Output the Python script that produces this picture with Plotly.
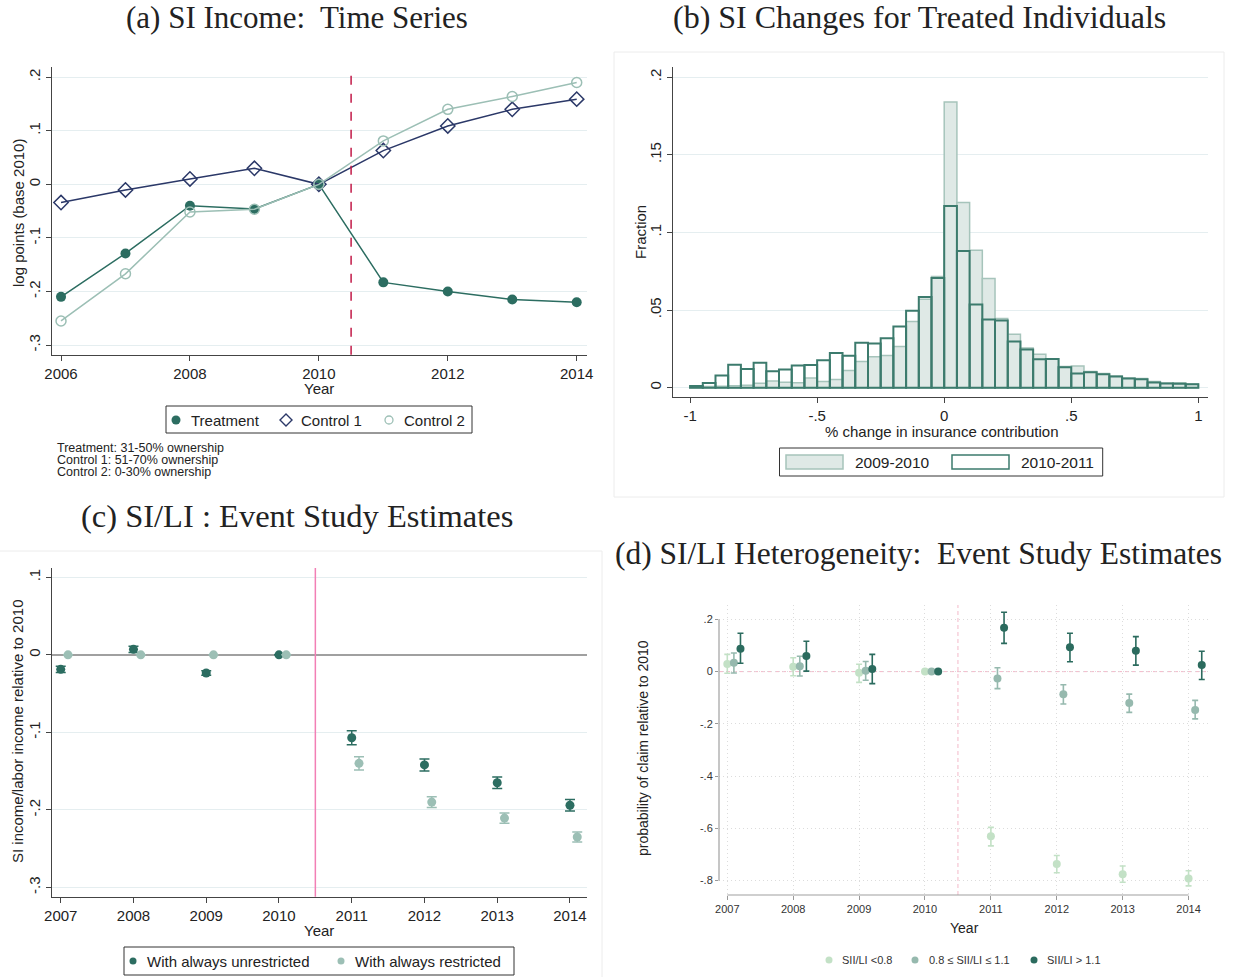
import plotly.graph_objects as go

W, H = 1233, 977
SANS = "Liberation Sans, Arial, sans-serif"
SERIF = "Liberation Serif, Times New Roman, serif"


def fx(x):
    return x / W


def fy(y):
    return 1 - y / H


# ---------------- (a) SI income time series ----------------
years_a = [2006, 2007, 2008, 2009, 2010, 2011, 2012, 2013, 2014]
treatment = [-0.210, -0.129, -0.040, -0.046, 0.0, -0.183, -0.200, -0.215, -0.220]
control1 = [-0.034, -0.0105, 0.010, 0.030, 0.0, 0.063, 0.109, 0.140, 0.159]
control2 = [-0.255, -0.167, -0.0516, -0.0466, 0.0, 0.081, 0.140, 0.164, 0.190]

# ---------------- (b) histogram of SI changes ----------------
bin_width = 0.05
bin_start = -1.0
frac_0910 = [0.0004, 0.0007, 0.0009, 0.0012, 0.0016, 0.0028, 0.0043, 0.0035, 0.0031, 0.0063,
             0.0040, 0.0053, 0.0110, 0.0169, 0.0200, 0.0207, 0.0266, 0.0426, 0.0570, 0.0717,
             0.1841, 0.1193, 0.0886, 0.0703, 0.0445, 0.0344, 0.0255, 0.0216, 0.0187, 0.0137,
             0.0140, 0.0104, 0.0091, 0.0075, 0.0063, 0.0059, 0.0039, 0.0030, 0.0032, 0.0024]
frac_1011 = [0.0010, 0.0030, 0.0079, 0.0147, 0.0120, 0.0160, 0.0106, 0.0117, 0.0143, 0.0146,
             0.0177, 0.0223, 0.0205, 0.0289, 0.0285, 0.0318, 0.0394, 0.0495, 0.0584, 0.0706,
             0.1170, 0.0880, 0.0536, 0.0440, 0.0433, 0.0297, 0.0246, 0.0183, 0.0185, 0.0131,
             0.0091, 0.0100, 0.0087, 0.0072, 0.0059, 0.0055, 0.0033, 0.0027, 0.0025, 0.0022]
bin_centers = [bin_start + bin_width * (i + 0.5) for i in range(len(frac_1011))]

# ---------------- (c) SI/LI event study ----------------
years_c = [2007, 2008, 2009, 2010, 2011, 2012, 2013, 2014]
unrestricted = [-0.0187, 0.0071, -0.0235, 0.0, -0.107, -0.142, -0.165, -0.194]
unrestricted_ci = [0.004, 0.004, 0.003, 0.0, 0.009, 0.0077, 0.0073, 0.0073]
restricted = [0.0, 0.0, 0.0, 0.0, -0.140, -0.190, -0.2106, -0.235]
restricted_ci = [0.0, 0.0, 0.0, 0.0, 0.0086, 0.007, 0.0065, 0.0065]
restricted_shift = 0.1

# ---------------- (d) heterogeneity event study ----------------
years_d = [2007, 2008, 2009, 2010, 2011, 2012, 2013, 2014]
low_est = [0.029, 0.019, -0.004, 0.0, -0.630, -0.736, -0.776, -0.792]
low_lo = [-0.0065, -0.016, -0.041, 0.0, -0.667, -0.770, -0.806, -0.820]
low_hi = [0.066, 0.053, 0.028, 0.0, -0.596, -0.704, -0.744, -0.762]
mid_est = [0.034, 0.021, 0.0035, 0.0, -0.026, -0.087, -0.120, -0.147]
mid_lo = [-0.005, -0.017, -0.033, 0.0, -0.065, -0.124, -0.156, -0.181]
mid_hi = [0.071, 0.059, 0.039, 0.0, 0.015, -0.050, -0.086, -0.110]
high_est = [0.088, 0.060, 0.010, 0.0, 0.168, 0.093, 0.080, 0.025]
high_lo = [0.032, 0.002, -0.046, 0.0, 0.108, 0.038, 0.025, -0.030]
high_hi = [0.147, 0.116, 0.066, 0.0, 0.227, 0.147, 0.134, 0.078]
group_shift = [0.0, 0.1, 0.2]
group_names = ["SII/LI <0.8", "0.8 \u2264 SII/LI \u2264 1.1", "SII/LI > 1.1"]

C_TREAT = "#2c6d61"
C_NAVY = "#2b3868"
C_LIGHT = "#9cbfb5"
C_GRID = "#e5eef0"
C_LOW, C_MID, C_HIGH = "#c3e1c6", "#96b9ae", "#2b6b5e"
AX = "#444444"

fig = go.Figure()

# (a) lines
fig.add_trace(go.Scatter(x=years_a, y=treatment, mode="lines+markers", xaxis="x", yaxis="y",
                         name="Treatment",
                         line=dict(color=C_TREAT, width=1.5),
                         marker=dict(symbol="circle", size=10, color=C_TREAT)))
fig.add_trace(go.Scatter(x=years_a, y=control1, mode="lines+markers", xaxis="x", yaxis="y",
                         name="Control 1",
                         line=dict(color=C_NAVY, width=1.5),
                         marker=dict(symbol="diamond-open", size=11, color=C_NAVY, line=dict(width=1.5))))
fig.add_trace(go.Scatter(x=years_a, y=control2, mode="lines+markers", xaxis="x", yaxis="y",
                         name="Control 2",
                         line=dict(color=C_LIGHT, width=1.5),
                         marker=dict(symbol="circle-open", size=10, color=C_LIGHT, line=dict(width=1.5))))

# (b) histograms
fig.add_trace(go.Bar(x=bin_centers, y=frac_0910, width=bin_width, xaxis="x2", yaxis="y2",
                     name="2009-2010",
                     marker=dict(color="#dfe9e6", line=dict(color="#a6c4bb", width=1.5))))
fig.add_trace(go.Bar(x=bin_centers, y=frac_1011, width=bin_width, xaxis="x2", yaxis="y2",
                     name="2010-2011",
                     marker=dict(color="rgba(0,0,0,0)", line=dict(color="#3c7b6d", width=2))))

# (c) event study
fig.add_trace(go.Scatter(x=years_c, y=unrestricted, mode="markers", xaxis="x3", yaxis="y3",
                         name="With always unrestricted",
                         marker=dict(size=9, color=C_TREAT),
                         error_y=dict(type="data", array=unrestricted_ci, color=C_TREAT,
                                      thickness=1.5, width=5)))
fig.add_trace(go.Scatter(x=[y + restricted_shift for y in years_c], y=restricted, mode="markers",
                         xaxis="x3", yaxis="y3", name="With always restricted",
                         marker=dict(size=9, color=C_LIGHT),
                         error_y=dict(type="data", array=restricted_ci, color=C_LIGHT,
                                      thickness=1.5, width=5)))

# (d) heterogeneity
groups = [
    (low_est, low_lo, low_hi, C_LOW),
    (mid_est, mid_lo, mid_hi, C_MID),
    (high_est, high_lo, high_hi, C_HIGH),
]
for name, (est, lo, hi, col), shift in zip(group_names, groups, group_shift):
    fig.add_trace(go.Scatter(
        x=[y + shift for y in years_d], y=est, mode="markers", xaxis="x4", yaxis="y4",
        name=name,
        marker=dict(size=8, color=col),
        error_y=dict(type="data", symmetric=False,
                     array=[h - e for h, e in zip(hi, est)],
                     arrayminus=[e - l for e, l in zip(est, lo)],
                     color=col, thickness=1.6, width=3)))

tickfont = dict(family=SANS, size=15, color="#222")
stata_y = dict(tickangle=-90, ticks="outside", ticklen=5, tickcolor=AX, showline=True,
               linecolor=AX, linewidth=1.3, showgrid=True, gridcolor=C_GRID, gridwidth=1.2,
               tickfont=tickfont, automargin=False)
stata_x = dict(ticks="outside", ticklen=5, tickcolor=AX, showline=True, linecolor=AX,
               linewidth=1.3, showgrid=False, zeroline=False, tickfont=tickfont, automargin=False)
dgrid = dict(showgrid=True, gridcolor="#dcdcdc", griddash="1px,3px", gridwidth=1,
             showline=False, automargin=False,
             tickfont=dict(family=SANS, size=11, color="#333"))

layout = dict(
    width=W, height=H, margin=dict(l=0, r=0, t=0, b=0, autoexpand=False),
    paper_bgcolor="white", plot_bgcolor="white",
    barmode="overlay", showlegend=False,
    font=dict(family=SANS, color="#222"),
    # (a)
    xaxis=dict(domain=[fx(52), fx(586.7)], range=[2005.86, 2014.155], anchor="y",
               tickvals=[2006, 2008, 2010, 2012, 2014], **stata_x),
    yaxis=dict(domain=[fy(354.7), fy(67)], range=[-0.318, 0.219], anchor="x",
               tickvals=[-0.3, -0.2, -0.1, 0, 0.1, 0.2], ticktext=["-.3", "-.2", "-.1", "0", ".1", ".2"],
               zeroline=False, **stata_y),
    # (b)
    xaxis2=dict(domain=[fx(673.3), fx(1208)], range=[-1.066, 1.038], anchor="y2",
                tickvals=[-1, -0.5, 0, 0.5, 1], ticktext=["-1", "-.5", "0", ".5", "1"], **stata_x),
    yaxis2=dict(domain=[fy(397.3), fy(67)], range=[-0.0062, 0.2066], anchor="x2",
                tickvals=[0, 0.05, 0.1, 0.15, 0.2], ticktext=["0", ".05", ".1", ".15", ".2"],
                zeroline=False, **stata_y),
    # (c): the zero reference line is the axis zeroline
    xaxis3=dict(domain=[fx(52), fx(586.7)], range=[2006.88, 2014.23], anchor="y3",
                tickvals=years_c, **stata_x),
    yaxis3=dict(domain=[fy(896.7), fy(568)], range=[-0.312, 0.112], anchor="x3",
                tickvals=[-0.3, -0.2, -0.1, 0, 0.1], ticktext=["-.3", "-.2", "-.1", "0", ".1"],
                zeroline=True, zerolinecolor="#a0a0a0", zerolinewidth=1.6, **stata_y),
    # (d)
    xaxis4=dict(domain=[fx(719), fx(1209)], range=[2006.874, 2014.31], anchor="y4",
                tickvals=years_d, ticks="outside", ticklen=4, tickcolor="#999",
                zeroline=False, **dgrid),
    yaxis4=dict(domain=[fy(895), fy(605)], range=[-0.855, 0.255], anchor="x4",
                tickvals=[-0.8, -0.6, -0.4, -0.2, 0, 0.2],
                ticktext=["-.8", "-.6", "-.4", "-.2", "0", ".2"],
                ticks="outside", ticklen=3, tickcolor="#999", zeroline=False, **dgrid),
)
fig.update_layout(**layout)

shapes = []


def box(x0, x1, y0, y1, line="#333", width=1, fill="white", layer="above"):
    shapes.append(dict(type="rect", xref="paper", yref="paper", x0=fx(x0), x1=fx(x1),
                       y0=fy(y1), y1=fy(y0), line=dict(color=line, width=width),
                       fillcolor=fill, layer=layer))


def dot(cx, cy, d, fill, line=None, width=0):
    shapes.append(dict(type="circle", xref="paper", yref="paper",
                       x0=fx(cx - d / 2), x1=fx(cx + d / 2), y0=fy(cy + d / 2), y1=fy(cy - d / 2),
                       fillcolor=fill, line=dict(color=line or fill, width=width)))


def diamond(cx, cy, r, color, width=1.4):
    path = "M {},{} L {},{} L {},{} L {},{} Z".format(
        fx(cx), fy(cy - r), fx(cx + r), fy(cy), fx(cx), fy(cy + r), fx(cx - r), fy(cy))
    shapes.append(dict(type="path", xref="paper", yref="paper", path=path,
                       fillcolor="white", line=dict(color=color, width=width)))


# panel frames
box(614, 1224, 52, 497, line="#ececec", fill="rgba(0,0,0,0)", layer="below")
box(-2, 602, 551, 979, line="#ececec", fill="rgba(0,0,0,0)", layer="below")
# (a) policy line
shapes.append(dict(type="line", xref="x", yref="y domain", x0=2010.5, x1=2010.5, y0=0, y1=1,
                   line=dict(color="#c21a48", width=1.5, dash="dash")))
# (c) policy line
shapes.append(dict(type="line", xref="x3", yref="y3 domain", x0=2010.5, x1=2010.5, y0=0, y1=1,
                   line=dict(color="#f27fb5", width=1.5)))
# (d) axis lines and reference lines
shapes.append(dict(type="line", xref="x4 domain", yref="y4", x0=0, x1=0, y0=-0.8, y1=0.2,
                   line=dict(color="#a0a0a0", width=1.2)))
shapes.append(dict(type="line", xref="x4", yref="y4 domain", x0=2007, x1=2014, y0=0, y1=0,
                   line=dict(color="#a0a0a0", width=1.2)))
shapes.append(dict(type="line", xref="x4 domain", yref="y4", x0=0, x1=1, y0=0, y1=0,
                   line=dict(color="#f3b9c9", width=1, dash="4px,3px"), layer="below"))
shapes.append(dict(type="line", xref="x4", yref="y4 domain", x0=2010.5, x1=2010.5, y0=0, y1=1,
                   line=dict(color="#f3b9c9", width=1, dash="4px,3px"), layer="below"))

# legend keys
box(166, 472, 406, 433)
dot(176, 420, 9, C_TREAT)
diamond(286, 420, 6, C_NAVY)
dot(389, 420, 8, "white", C_LIGHT, 1.3)
box(779.5, 1102.7, 448, 476)
box(786, 843, 455, 469, line="#a6c4bb", width=1.5, fill="#dfe9e6")
box(952, 1009, 455, 469, line="#3c7b6d", width=1.5, fill="white")
box(124, 514, 947, 975)
dot(133, 961, 7, C_TREAT)
dot(341, 961, 7, C_LIGHT)
dot(829, 960, 7, C_LOW)
dot(915, 960, 7, C_MID)
dot(1034, 960, 7, C_HIGH)
fig.update_layout(shapes=shapes)

ann = []


def text(x, y, s, size, family=SANS, angle=0, xanchor="center", color="#222"):
    ann.append(dict(x=fx(x), y=fy(y), xref="paper", yref="paper", text=s, showarrow=False,
                    xanchor=xanchor, yanchor="middle", textangle=angle,
                    font=dict(family=family, size=size, color=color)))


# titles
text(297, 17, "(a) SI Income:  Time Series", 31, SERIF)
text(919, 17, "(b) SI Changes for Treated Individuals", 32, SERIF)
text(297, 516, "(c) SI/LI : Event Study Estimates", 32.5, SERIF)
text(918, 553, "(d) SI/LI Heterogeneity:  Event Study Estimates", 31.5, SERIF)
# axis titles
text(319, 388, "Year", 15)
text(18, 213, "log points (base 2010)", 15, angle=-90)
text(941, 431, "% change in insurance contribution", 15)
text(640, 232, "Fraction", 15, angle=-90)
text(319, 930, "Year", 15)
text(17, 732, "SI income/labor income relative to 2010", 15, angle=-90)
text(964, 928, "Year", 14)
text(643, 748, "probability of claim relative to 2010", 14, angle=-90)
# notes under (a)
text(55, 448, "Treatment: 31-50% ownership", 12.5, xanchor="left")
text(55, 460, "Control 1: 51-70% ownership", 12.5, xanchor="left")
text(55, 472, "Control 2: 0-30% ownership", 12.5, xanchor="left")
# legend labels
text(189, 420, "Treatment", 15, xanchor="left")
text(299, 420, "Control 1", 15, xanchor="left")
text(402, 420, "Control 2", 15, xanchor="left")
text(853, 462, "2009-2010", 15.5, xanchor="left")
text(1019, 462, "2010-2011", 15.5, xanchor="left")
text(145, 961, "With always unrestricted", 15, xanchor="left")
text(353, 961, "With always restricted", 15, xanchor="left")
text(840, 960, group_names[0], 11, xanchor="left", color="#333")
text(927, 960, group_names[1], 11, xanchor="left", color="#333")
text(1045, 960, group_names[2], 11, xanchor="left", color="#333")
fig.update_layout(annotations=ann)

fig.write_html("out.html")
